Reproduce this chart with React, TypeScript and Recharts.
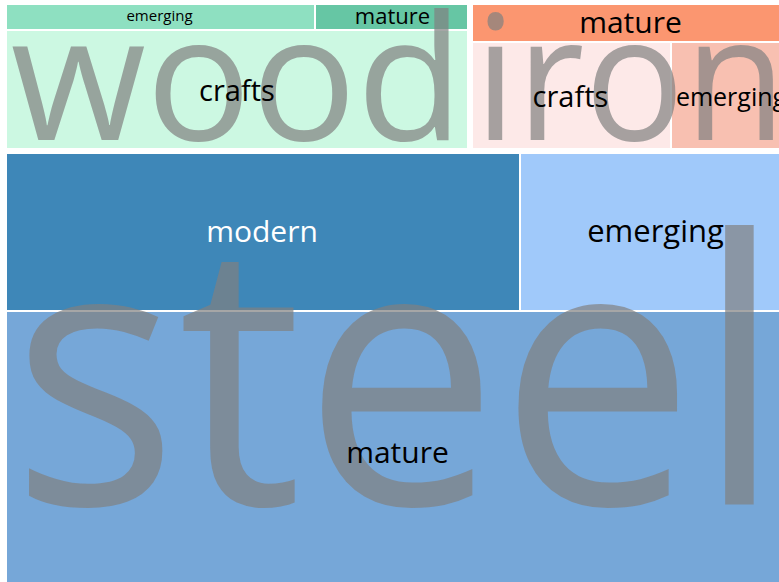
import { Treemap } from "recharts";

/* ─── material / maturity treemap ──────────────────────────────────────────
 * three materials, each split into maturity stages. values are shares (%)
 * ───────────────────────────────────────────────────────────────────────── */
const WOOD_STAGES = ["emerging", "mature", "crafts"];
const WOOD_VALUES = [1.87, 0.93, 12.12];

const IRON_STAGES = ["mature", "crafts", "emerging"];
const IRON_VALUES = [2.76, 4.71, 2.81];

const STEEL_STAGES = ["modern", "emerging", "mature"];
const STEEL_VALUES = [17.75, 9.32, 47.72];

// how the stages are bunched into strips inside each material (indexes above)
const WOOD_STRIPS = [[0, 1], [2]];
const IRON_STRIPS = [[0], [1, 2]];
const STEEL_STRIPS = [[0, 1], [2]];

const W = 787;
const H = 591;
const FONT = "'Open Sans', 'Noto Sans', sans-serif";

const GROUP_STYLE: Record<string, { size: number; stretch: number }> = {
  wood: { size: 175, stretch: 1 },
  iron: { size: 175, stretch: 0.95 },
  steel: { size: 368, stretch: 0.95 },
};

const LEAF_STYLE: Record<string, { fill: string; color: string; size: number }> = {
  "wood/emerging": { fill: "#8ee0c1", color: "#000", size: 15 },
  "wood/mature": { fill: "#66c6a4", color: "#000", size: 22 },
  "wood/crafts": { fill: "#ccf8e2", color: "#000", size: 29 },
  "iron/mature": { fill: "#fb9670", color: "#000", size: 30 },
  "iron/crafts": { fill: "#fde9e8", color: "#000", size: 29 },
  "iron/emerging": { fill: "#f8c0b1", color: "#000", size: 25 },
  "steel/modern": { fill: "#3e87b8", color: "#fff", size: 30 },
  "steel/emerging": { fill: "#a0c9fa", color: "#000", size: 31 },
  "steel/mature": { fill: "#76a7d8", color: "#000", size: 30 },
};

function buildGroup(name: string, stages: string[], values: number[], strips: number[][]) {
  const leaves = (idx: number[]) =>
    idx.map((i) => ({ name: stages[i], kind: "leaf", group: name, value: values[i] }));
  return {
    name,
    kind: "group",
    children: strips.map((s) =>
      s.length === 1 ? leaves(s)[0] : { name: `${name}-strip`, kind: "strip", children: leaves(s) }
    ),
  };
}

const DATA = [
  {
    name: "top",
    kind: "strip",
    children: [
      buildGroup("wood", WOOD_STAGES, WOOD_VALUES, WOOD_STRIPS),
      buildGroup("iron", IRON_STAGES, IRON_VALUES, IRON_STRIPS),
    ],
  },
  buildGroup("steel", STEEL_STAGES, STEEL_VALUES, STEEL_STRIPS),
];

/* bottom layer: coloured cells with hairline white gaps */
function CellLayer(props: any) {
  const { x, y, width, height, kind, group, name } = props;
  if (kind !== "leaf") return null;
  const st = LEAF_STYLE[`${group}/${name}`];
  return (
    <rect x={x} y={y} width={width} height={height} fill={st.fill} stroke="#fff" strokeWidth={2} />
  );
}

/* top layer: group gaps, big translucent group word, stage labels */
function LabelLayer(props: any) {
  const { x, y, width, height, kind, group, name } = props;
  const cx = x + width / 2;
  const cy = y + height / 2;
  if (kind === "group") {
    const st = GROUP_STYLE[name];
    return (
      <g>
        <rect x={x} y={y} width={width} height={height} fill="none" stroke="#fff" strokeWidth={6} />
        <text
          transform={`translate(${cx},${cy + st.size * 0.36}) scale(${st.stretch},1)`}
          textAnchor="middle"
          fontFamily={FONT}
          fontSize={st.size}
          fill="#808080"
          fillOpacity={0.7}
        >
          {name}
        </text>
      </g>
    );
  }
  if (kind === "leaf") {
    const st = LEAF_STYLE[`${group}/${name}`];
    return (
      <text
        x={cx}
        y={cy + st.size * 0.36}
        textAnchor="middle"
        fontFamily={FONT}
        fontSize={st.size}
        fill={st.color}
      >
        {name}
      </text>
    );
  }
  return null;
}

export default function App() {
  return (
    <div
      style={{
        position: "fixed",
        left: 0,
        top: 0,
        width: 779,
        height: 582,
        overflow: "hidden",
        background: "#fff",
      }}
    >
      <div style={{ position: "absolute", left: 4, top: 2, width: W, height: H }}>
        <div style={{ position: "absolute", left: 0, top: 0 }}>
          <Treemap
            width={W}
            height={H}
            data={DATA}
            dataKey="value"
            nameKey="name"
            aspectRatio={3.5}
            isAnimationActive={false}
            content={CellLayer}
          />
        </div>
        <div style={{ position: "absolute", left: 0, top: 0 }}>
          <Treemap
            width={W}
            height={H}
            data={DATA}
            dataKey="value"
            nameKey="name"
            aspectRatio={3.5}
            isAnimationActive={false}
            content={LabelLayer}
          />
        </div>
      </div>
    </div>
  );
}
